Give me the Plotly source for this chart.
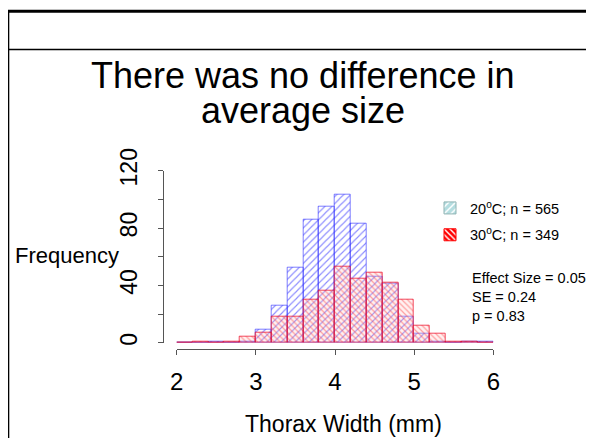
import plotly.graph_objects as go

# ---- data ----
bin_left = [2.0, 2.2, 2.4, 2.6, 2.8, 3.0, 3.2, 3.4, 3.6, 3.8,
            4.0, 4.2, 4.4, 4.6, 4.8, 5.0, 5.2, 5.4, 5.6, 5.8]
bin_width = 0.2
counts_20 = [0, 0, 1, 0, 1, 9, 26, 52, 86, 95,
             103, 83, 46, 41, 18, 6, 1, 0, 1, 1]
counts_30 = [0, 1, 0, 1, 4, 7, 18, 18, 30, 36,
             53, 45, 49, 42, 30, 12, 6, 1, 1, 0]
label_20 = "20<sup>o</sup>C; n = 565"
label_30 = "30<sup>o</sup>C; n = 349"
stats_text = "Effect Size = 0.05<br>SE = 0.24<br>p = 0.83"
x_ticks = [2, 3, 4, 5, 6]
y_ticks = [0, 20, 40, 60, 80, 100, 120]
y_ticktext = ["0", "", "40", "", "80", "", "120"]

centers = [b + bin_width / 2 for b in bin_left]
FONT = "Liberation Sans, Arial, sans-serif"

# page body has an 8px margin: figure sized to fit inside the window
OFF = 8
W, H = 594 - 2 * OFF, 446 - 2 * OFF


def px(x):  # window pixel -> paper fraction (x)
    return (x - OFF) / W


def py(y):  # window pixel (from top) -> paper fraction (y)
    return 1 - (y - OFF) / H


fig = go.Figure()
fig.add_trace(go.Bar(
    x=centers, y=counts_20, width=bin_width, showlegend=False,
    marker=dict(color="rgba(0,0,255,0.55)",
                line=dict(color="rgba(40,40,255,0.6)", width=1),
                pattern=dict(shape="/", fgcolor="rgba(60,60,255,0.6)",
                             bgcolor="rgba(0,0,0,0)", size=5, solidity=0.22,
                             fillmode="replace")),
))
fig.add_trace(go.Bar(
    x=centers, y=counts_30, width=bin_width, showlegend=False,
    marker=dict(color="rgba(255,0,0,0.45)",
                line=dict(color="rgba(235,0,30,0.7)", width=1),
                pattern=dict(shape="\\", fgcolor="rgba(255,60,60,0.45)",
                             bgcolor="rgba(255,200,200,0.25)", size=4, solidity=0.3,
                             fillmode="replace")),
))
# legend entries
fig.add_trace(go.Bar(
    x=[None], y=[None], name=label_20, legendgroup="a",
    marker=dict(color="#b4dde0", line=dict(color="#8fb3b3", width=1),
                pattern=dict(shape="/", fgcolor="white", bgcolor="#b4dde0",
                             size=6, solidity=0.3, fillmode="replace")),
))
fig.add_trace(go.Bar(
    x=[None], y=[None], name=label_30, legendgroup="b",
    marker=dict(color="red", line=dict(color="red", width=1),
                pattern=dict(shape="\\", fgcolor="white", bgcolor="red",
                             size=5, solidity=0.35, fillmode="replace")),
))

axis_col = "#555555"
fig.update_layout(
    width=W, height=H, margin=dict(l=0, r=0, t=0, b=0, pad=0, autoexpand=False),
    paper_bgcolor="white", plot_bgcolor="white",
    barmode="overlay", bargap=0,
    font=dict(family=FONT, color="black"),
    xaxis=dict(domain=[px(176.7), px(493.3)], range=[2, 6], anchor="free",
               position=py(349.3), showline=True, linecolor=axis_col,
               linewidth=1, ticks="outside", ticklen=5, tickcolor=axis_col,
               tickvals=x_ticks, tickfont=dict(size=24), showgrid=False,
               zeroline=False, ticklabelstandoff=6, automargin=False),
    yaxis=dict(domain=[py(342.7), py(170.7)], range=[0, 120],
               anchor="free", position=px(163.3), showline=True,
               linecolor=axis_col, linewidth=1, ticks="outside", ticklen=5,
               tickcolor=axis_col, tickvals=y_ticks, ticktext=y_ticktext,
               tickangle=-90, tickfont=dict(size=23), showgrid=False,
               zeroline=False, ticklabelstandoff=12, automargin=False),
    legend=dict(x=px(430), y=py(192), xanchor="left", yanchor="top",
                font=dict(size=14.5), tracegroupgap=5,
                bgcolor="rgba(0,0,0,0)"),
)

ann = [
    dict(text="There was no difference in", x=px(302.5), y=py(75.5),
         font=dict(size=36)),
    dict(text="average size", x=px(303), y=py(110.5), font=dict(size=36)),
    dict(text="Frequency", x=px(67), y=py(255), font=dict(size=22)),
    dict(text="Thorax Width (mm)", x=px(343), y=py(423.5),
         font=dict(size=23)),
]
for a in ann:
    fig.add_annotation(xref="paper", yref="paper", showarrow=False,
                       xanchor="center", yanchor="middle", **a)
fig.add_annotation(xref="paper", yref="paper", showarrow=False, text=stats_text,
                   x=px(470), y=py(297), xanchor="left", yanchor="middle",
                   align="left", font=dict(size=14.5))

# slide frame
fig.add_shape(type="line", xref="paper", yref="paper", x0=px(7.8), x1=1.0,
              y0=py(11.2), y1=py(11.2), line=dict(color="black", width=3))
fig.add_shape(type="line", xref="paper", yref="paper", x0=px(7.8), x1=px(7.8),
              y0=0.0, y1=py(11.2), line=dict(color="black", width=3))
fig.add_shape(type="line", xref="paper", yref="paper", x0=px(7.8), x1=1.0,
              y0=py(49.5), y1=py(49.5), line=dict(color="black", width=1.5))

fig.write_html("out.html")
